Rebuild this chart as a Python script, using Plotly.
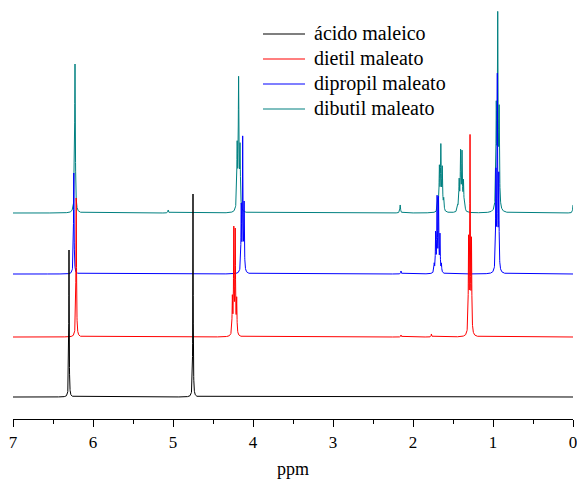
import numpy as np
import plotly.graph_objects as go

# ---------------- data ----------------
series_names = ["ácido maleico", "dietil maleato", "dipropil maleato", "dibutil maleato"]

# peak lists: chemical shift (ppm) and line height (intensity units)
acido_ppm = [6.300, 4.750]
acido_int = [147, 203]

dietil_ppm = [6.210, 4.258, 4.240, 4.222, 4.204, 2.150, 1.770, 1.305, 1.287, 1.269]
dietil_int = [139, 36, 104, 102, 34, 2, 3, 92, 194, 90]

dipropil_ppm = [6.240, 4.147, 4.129, 4.111, 2.150, 1.735, 1.717, 1.699, 1.681, 1.663, 1.645,
                0.964, 0.946, 0.928]
dipropil_int = [101, 64, 132, 66, 3, 8, 38, 73, 72, 36, 8, 96, 192, 92]

dibutil_ppm = [6.225, 5.060, 4.198, 4.180, 4.162, 2.160, 1.688, 1.670, 1.652, 1.634, 1.616,
               1.441, 1.423, 1.405, 1.387, 1.369, 1.351, 0.959, 0.941, 0.923, 0.000]
dibutil_int = [149, 3, 62, 128, 60, 8, 11, 42, 63, 41, 11, 5, 29, 57, 56, 28, 5,
               97, 188, 93, 8]

# line half-widths (ppm) and vertical stacking offsets of each spectrum
half_width = [0.003, 0.004, 0.004, 0.005]
offsets = [22, 82, 145, 206]

colors = ["#000000", "#FF0000", "#0000FF", "#008080"]
tick_vals = [0, 1, 2, 3, 4, 5, 6, 7]
tick_text = ["0", "1", "2", "3", "4", "5", "6", "7"]

peaks = [(acido_ppm, acido_int), (dietil_ppm, dietil_int),
         (dipropil_ppm, dipropil_int), (dibutil_ppm, dibutil_int)]


def spectrum(ppm, inten, w):
    grid = np.linspace(0.0, 7.0, 7001)
    x = np.unique(np.concatenate([grid, np.array(ppm, dtype=float)]))
    y = np.zeros_like(x)
    for p, h in zip(ppm, inten):
        y += h * w ** 2 / ((x - p) ** 2 + w ** 2)
    return x, y


fig = go.Figure()
# draw dibutil first so the lower spectra sit on top
for i in [3, 2, 1, 0]:
    x, y = spectrum(peaks[i][0], peaks[i][1], half_width[i])
    fig.add_trace(go.Scatter(
        x=x, y=y + offsets[i], mode="lines", name=series_names[i],
        line=dict(color=colors[i], width=1), hoverinfo="skip", showlegend=False))

# legend drawn as line samples + text labels (Origin-style compact legend)
W, H, L, T = 577, 483, 13, 0
PW, PH = 560, 419
leg_line_x = [263, 305]
leg_text_x = 312
leg_rows_y = [34, 59, 84, 109]
for i in range(4):
    yp = (PH - (leg_rows_y[i] - T)) / PH
    fig.add_shape(type="line", xref="paper", yref="paper",
                  x0=(leg_line_x[0] - L) / PW, x1=(leg_line_x[1] - L) / PW, y0=yp, y1=yp,
                  line=dict(color=colors[i], width=1.2))
    fig.add_annotation(xref="paper", yref="paper", x=(leg_text_x - L) / PW, y=yp,
                       text=series_names[i], showarrow=False, xanchor="left",
                       yanchor="middle", yshift=1,
                       font=dict(family="Liberation Serif", size=20, color="black"))

serif = "Liberation Serif"
fig.update_layout(
    width=W, height=H,
    margin=dict(l=L, r=W - L - PW, t=T, b=H - T - PH, pad=0, autoexpand=False),
    paper_bgcolor="white", plot_bgcolor="white",
    font=dict(family=serif, color="black", size=17),
    showlegend=False,
    xaxis=dict(range=[7, 0], tickvals=tick_vals, ticktext=tick_text, automargin=False,
               ticklabeloverflow="allow",
               ticks="outside", ticklen=7, tickwidth=1.2, tickcolor="black",
               showline=True, linecolor="black", linewidth=1.3,
               showgrid=False, zeroline=False,
               tickfont=dict(family=serif, size=17, color="black"),
               minor=dict(dtick=0.5, ticks="outside", ticklen=3.5, tickwidth=1.2,
                          tickcolor="black", showgrid=False),
               title=dict(text="ppm", font=dict(family=serif, size=18, color="black"),
                          standoff=11)),
    yaxis=dict(visible=False, range=[0, 419], fixedrange=True, automargin=False),
)

fig.write_html("out.html", config={"displayModeBar": False},
               post_script="document.body.style.margin='0';document.body.style.overflow='hidden';")
